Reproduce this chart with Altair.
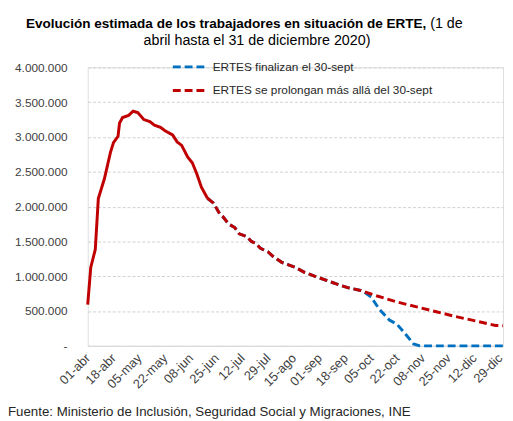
import altair as alt
import pandas as pd

FONT = "Liberation Sans"

x_labels = ["01-abr", "18-abr", "05-may", "22-may", "08-jun", "25-jun", "12-jul",
            "29-jul", "15-ago", "01-sep", "18-sep", "05-oct", "22-oct", "08-nov",
            "25-nov", "12-dic", "29-dic"]
x_tick_days = [0, 17, 34, 51, 68, 85, 102, 119, 136, 153, 170, 187, 204, 221, 238, 255, 272]
y_ticks = [0, 500000, 1000000, 1500000, 2000000, 2500000, 3000000, 3500000, 4000000]

# observed part (solid red), values in thousands
obs_days = [0, 2, 5, 7, 11, 15, 17, 20, 21, 23, 27, 30, 33, 37, 41, 44, 48, 51, 56, 59, 62, 66, 69, 72, 75, 79]
obs_vals = [594, 1127, 1385, 2116, 2400, 2780, 2920, 3010, 3200, 3280, 3310, 3370, 3350, 3250,
            3220, 3170, 3140, 3090, 3030, 2930, 2880, 2710, 2630, 2470, 2280, 2120]

# shared projection until 30-sept
shared_days = [79, 83, 87, 89, 93, 97, 100, 105, 108, 111, 114, 119, 122, 128, 137, 143, 150, 158, 164, 172, 180, 182]
shared_vals = [2120, 2050, 1900, 1860, 1750, 1700, 1610, 1570, 1500, 1470, 1400, 1350, 1290, 1200,
               1127, 1056, 999, 937, 890, 834, 796, 780]

blue_days = [187, 192, 199, 204, 210, 215, 219, 274]
blue_vals = [702, 537, 372, 311, 160, 28, 0, 0]

red_days = [191, 204, 217, 230, 243, 256, 269, 274]
red_vals = [716, 631, 560, 490, 420, 358, 293, 290]

series_names = ["ERTES finalizan el 30-sept", "ERTES se prolongan más allá del 30-sept"]
series_colors = ["#0070C0", "#C00000"]

title_bold = "Evolución estimada de los trabajadores en situación de ERTE,"
title_norm1 = "(1 de"
title_line2 = "abril hasta el 31 de diciembre 2020)"
source = "Fuente: Ministerio de Inclusión, Seguridad  Social y Migraciones, INE"

obs = pd.DataFrame({"dia": obs_days, "v": [v * 1000 for v in obs_vals]})
blue = pd.DataFrame({"dia": shared_days + blue_days,
                     "v": [v * 1000 for v in shared_vals + blue_vals],
                     "serie": series_names[0]})
red = pd.DataFrame({"dia": shared_days + red_days,
                    "v": [v * 1000 for v in shared_vals + red_vals],
                    "serie": series_names[1]})

label_expr = "[" + ",".join("'%s'" % s for s in x_labels) + "][round(datum.value/17)]"

x_enc = alt.X("dia:Q", scale=alt.Scale(domain=[0, 274], nice=False, zero=False),
              axis=alt.Axis(values=x_tick_days, labelExpr=label_expr, labelAngle=315,
                            labelAlign="right", labelBaseline="middle", grid=False, ticks=False,
                            tickSize=0, domain=True, domainColor="#d9d9d9", domainWidth=1.5,
                            title=None, labelFontSize=13, labelFont=FONT, labelColor="#404040",
                            labelPadding=10, labelOverlap=False, labelFlush=False))
y_enc = alt.Y("v:Q", scale=alt.Scale(domain=[0, 4000000], nice=False),
              axis=alt.Axis(values=y_ticks,
                            labelExpr="datum.value == 0 ? '-\u00a0\u00a0' : replace(format(datum.value, ','), regexp(',', 'g'), '.')",
                            grid=True, gridDash=[3, 2], gridColor="#d0d0d0", ticks=False, tickSize=0,
                            domain=False, labelPadding=21, title=None, labelFontSize=12,
                            labelFont=FONT, labelColor="#404040"))

color_enc = alt.Color("serie:N", scale=alt.Scale(domain=series_names, range=series_colors),
                      legend=alt.Legend(title=None, orient="none", legendX=85, legendY=-18,
                                        symbolType="stroke", symbolSize=1024, symbolStrokeWidth=3,
                                        symbolDash=[8, 4], labelFontSize=12, labelFont=FONT,
                                        labelColor="#262626", labelOffset=7, labelLimit=400,
                                        rowPadding=-8))

blue_line = alt.Chart(blue).mark_line(strokeWidth=3, strokeDash=[8, 4]).encode(
    x=x_enc, y=y_enc, color=color_enc)
red_line = alt.Chart(red).mark_line(strokeWidth=3, strokeDash=[8, 4]).encode(
    x=x_enc, y=y_enc, color=color_enc)
obs_line = alt.Chart(obs).mark_line(strokeWidth=3, color="#C00000").encode(x=x_enc, y=y_enc)

t1 = alt.Chart(pd.DataFrame({"t": [title_bold]})).mark_text(
    font=FONT, fontSize=13.75, fontWeight="bold", align="right", baseline="alphabetic",
    color="#000000").encode(text="t:N", x=alt.value(344), y=alt.value(-40))
t2 = alt.Chart(pd.DataFrame({"t": [title_norm1]})).mark_text(
    font=FONT, fontSize=14.5, align="left", baseline="alphabetic",
    color="#000000").encode(text="t:N", x=alt.value(348), y=alt.value(-40))
t3 = alt.Chart(pd.DataFrame({"t": [title_line2]})).mark_text(
    font=FONT, fontSize=14.5, align="center", baseline="alphabetic",
    color="#000000").encode(text="t:N", x=alt.value(172), y=alt.value(-23))
src = alt.Chart(pd.DataFrame({"t": [source]})).mark_text(
    font=FONT, fontSize=13.5, align="left", baseline="alphabetic",
    color="#262626").encode(text="t:N", x=alt.value(-81), y=alt.value(354))

chart = alt.layer(blue_line, red_line, obs_line, t1, t2, t3, src).properties(
    width=422, height=283,
    autosize=alt.AutoSizeParams(type="none"),
    padding={"left": 81, "top": 57, "right": 2, "bottom": 73},
).configure_view(stroke=None).configure(background="white")

chart.save("out.html", embed_options={"renderer": "svg", "actions": False})
